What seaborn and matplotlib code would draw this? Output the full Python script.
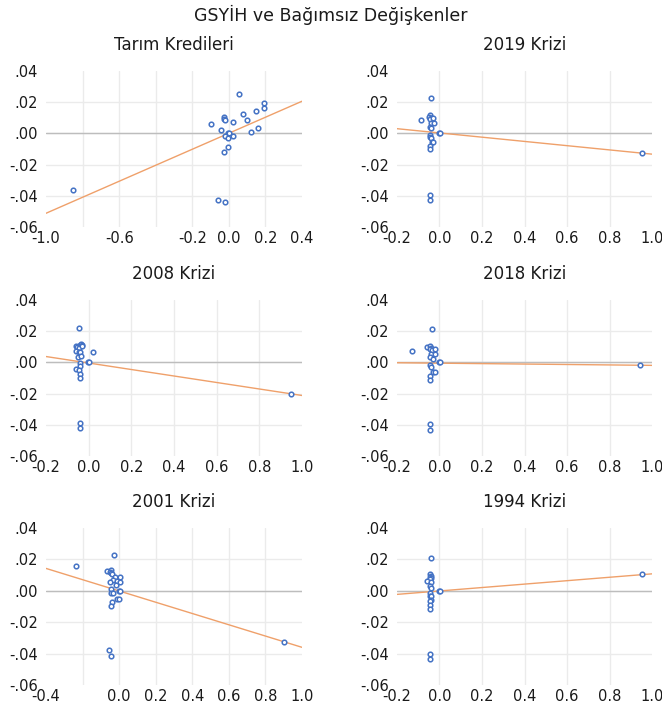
import numpy as np
import pandas as pd
import matplotlib
matplotlib.use("Agg")
import matplotlib.pyplot as plt
import seaborn as sns

# panel titles
titles = ["Tarım Kredileri", "2019 Krizi", "2008 Krizi", "2018 Krizi", "2001 Krizi", "1994 Krizi"]

# points
tarim_x = [-0.854, 0.058, 0.193, 0.193, 0.150, 0.077, 0.099, 0.024, -0.024, -0.024, -0.022, -0.095,
           -0.042, 0.162, 0.120, -0.005, 0.002, -0.022, 0.022, -0.005, -0.007, -0.024, -0.057, -0.022]
tarim_y = [-0.0366, 0.0250, 0.0195, 0.0163, 0.0141, 0.0126, 0.0084, 0.0075, 0.0105, 0.0094, 0.0086, 0.0058,
           0.0019, 0.0032, 0.0006, 0.0002, 0.0000, -0.0015, -0.0015, -0.0030, -0.0086, -0.0120, -0.0426, -0.0441]

k2019_x = [-0.042, -0.086, -0.045, -0.049, -0.042, -0.035, -0.045, -0.030, -0.038, -0.027, -0.045, -0.038,
           -0.003, 0.002, -0.045, -0.045, -0.042, -0.035, -0.030, -0.045, -0.045, -0.045, -0.045, 0.954]
k2019_y = [0.0224, 0.0084, 0.0116, 0.0108, 0.0101, 0.0095, 0.0090, 0.0097, 0.0069, 0.0065, 0.0043, 0.0034,
           0.0000, 0.0000, -0.0009, -0.0022, -0.0028, -0.0052, -0.0052, -0.0080, -0.0103, -0.0394, -0.0428, -0.0127]

k2008_x = [-0.047, -0.060, -0.053, -0.041, -0.038, -0.033, -0.044, -0.031, -0.060, -0.047, -0.041, 0.022,
           -0.052, -0.036, -0.002, 0.001, -0.041, -0.041, -0.058, -0.047, -0.041, -0.041, -0.041, -0.041, 0.948]
k2008_y = [0.0223, 0.0102, 0.0098, 0.0111, 0.0119, 0.0111, 0.0094, 0.0106, 0.0070, 0.0066, 0.0066, 0.0066,
           0.0036, 0.0043, 0.0000, 0.0000, -0.0004, -0.0021, -0.0043, -0.0049, -0.0077, -0.0102, -0.0389, -0.0423, -0.0200]

k2018_x = [-0.036, -0.131, -0.058, -0.047, -0.042, -0.045, -0.034, -0.022, -0.039, -0.023, -0.045, -0.031,
           -0.002, 0.001, -0.045, -0.042, -0.031, -0.020, -0.045, -0.045, -0.047, -0.045, 0.942]
k2018_y = [0.0211, 0.0070, 0.0099, 0.0108, 0.0095, 0.0087, 0.0082, 0.0087, 0.0055, 0.0055, 0.0032, 0.0023,
           0.0000, 0.0000, -0.0019, -0.0032, -0.0061, -0.0059, -0.0087, -0.0112, -0.0397, -0.0431, -0.0017]

k2001_x = [-0.235, -0.026, -0.064, -0.046, -0.049, -0.044, -0.040, -0.022, 0.005, -0.035, -0.049, -0.009, 0.005,
           -0.018, -0.044, -0.002, 0.002, -0.044, -0.031, -0.013, 0.000, -0.040, -0.044, -0.053, -0.044, 0.903]
k2001_y = [0.0155, 0.0226, 0.0126, 0.0130, 0.0119, 0.0113, 0.0109, 0.0091, 0.0087, 0.0070, 0.0053, 0.0062, 0.0057,
           0.0034, 0.0009, 0.0000, 0.0000, -0.0013, -0.0015, -0.0053, -0.0053, -0.0072, -0.0094, -0.0377, -0.0415, -0.0328]

k1994_x = [-0.042, -0.045, -0.042, -0.047, -0.038, -0.045, -0.058, -0.038, -0.045, -0.039, -0.002,
           0.001, -0.045, -0.045, -0.039, -0.042, -0.045, -0.045, -0.045, -0.045, -0.045, 0.953]
k1994_y = [0.0210, 0.0106, 0.0095, 0.0087, 0.0081, 0.0074, 0.0061, 0.0053, 0.0032, 0.0021, 0.0000,
           0.0000, -0.0015, -0.0034, -0.0036, -0.0061, -0.0064, -0.0093, -0.0117, -0.0403, -0.0436, 0.0104]

# fitted lines (slope, intercept)
fit_slope = [0.0513, -0.0136, -0.0208, -0.0014, -0.0359, 0.0109]
fit_intercept = [0.0001, 0.0003, -0.0004, -0.0005, -0.0001, -0.0001]

# x ranges and which x ticks carry labels
x_limits = [(-1.0, 0.4), (-0.2, 1.0), (-0.2, 1.0), (-0.2, 1.0), (-0.4, 1.0), (-0.2, 1.0)]
x_labels = [[-1.0, -0.6, -0.2, 0.0, 0.2, 0.4],
            [-0.2, 0.0, 0.2, 0.4, 0.6, 0.8, 1.0],
            [-0.2, 0.0, 0.2, 0.4, 0.6, 0.8, 1.0],
            [-0.2, 0.0, 0.2, 0.4, 0.6, 0.8, 1.0],
            [-0.4, 0.0, 0.2, 0.4, 0.6, 0.8, 1.0],
            [-0.2, 0.0, 0.2, 0.4, 0.6, 0.8, 1.0]]
y_ticks = [-0.06, -0.04, -0.02, 0.00, 0.02, 0.04]

xs = [tarim_x, k2019_x, k2008_x, k2018_x, k2001_x, k1994_x]
ys = [tarim_y, k2019_y, k2008_y, k2018_y, k2001_y, k1994_y]

sns.set_style("white")
plt.rcParams['font.family'] = ['DejaVu Sans']

fig = plt.figure(figsize=(6.62, 7.05), dpi=100)

W, H = 662, 705
col_left = [46, 397]
col_width = [256, 255]
row_top = [71, 300, 528]
row_bottom = [227, 456, 685]

for i in range(6):
    r, c = divmod(i, 2)
    left = col_left[c] / W
    bottom = (H - row_bottom[r]) / H
    ax = fig.add_axes([left, bottom, col_width[c] / W, (row_bottom[r] - row_top[r]) / H])

    df = pd.DataFrame({'x': xs[i], 'y': ys[i]})
    lo, hi = x_limits[i]
    line_x = np.array([lo, hi])
    line_df = pd.DataFrame({'x': line_x, 'y': fit_intercept[i] + fit_slope[i] * line_x})

    ax.axhline(0, color='#BDBDBD', lw=1.0, zorder=1)
    sns.lineplot(data=line_df, x='x', y='y', ax=ax, color='#EFA06A', lw=1.0, zorder=2)
    sns.scatterplot(data=df, x='x', y='y', ax=ax, marker='o', s=11, facecolor='white',
                    edgecolor='#4472C4', linewidth=1.1, zorder=3)

    ax.set_xlim(lo, hi)
    ax.set_ylim(-0.06, 0.04)
    ticks = np.round(np.arange(lo, hi + 0.001, 0.2), 1)
    ax.set_xticks(ticks)
    ax.set_xticklabels([f"{t:.1f}".replace("-0.0", "0.0") if any(abs(t - v) < 1e-6 for v in x_labels[i]) else ""
                        for t in ticks])
    ax.set_yticks(y_ticks)
    ax.set_yticklabels([f"{v:.2f}".replace("0.", ".") for v in y_ticks])

    ax.grid(True, color='#EBEBEB', lw=1.0)
    ax.set_axisbelow(True)
    # no gridlines on the frame edges
    for gl in [ax.get_xgridlines()[0], ax.get_xgridlines()[-1],
               ax.get_ygridlines()[0], ax.get_ygridlines()[-1]]:
        gl.set_visible(False)

    sns.despine(ax=ax, left=True, bottom=True)
    ax.tick_params(axis='both', length=0, labelsize=10.5, colors='#1a1a1a')
    ax.tick_params(axis='x', pad=3)
    ax.tick_params(axis='y', pad=6)
    ax.set_xlabel("")
    ax.set_ylabel("")
    ax.set_title(titles[i], fontsize=12, pad=15, color='#1a1a1a')

fig.suptitle("GSYİH ve Bağımsız Değişkenler", fontsize=12.5, y=1 - 15 / H, va='center', color='#1a1a1a')

fig.savefig("out.png", dpi=100)
